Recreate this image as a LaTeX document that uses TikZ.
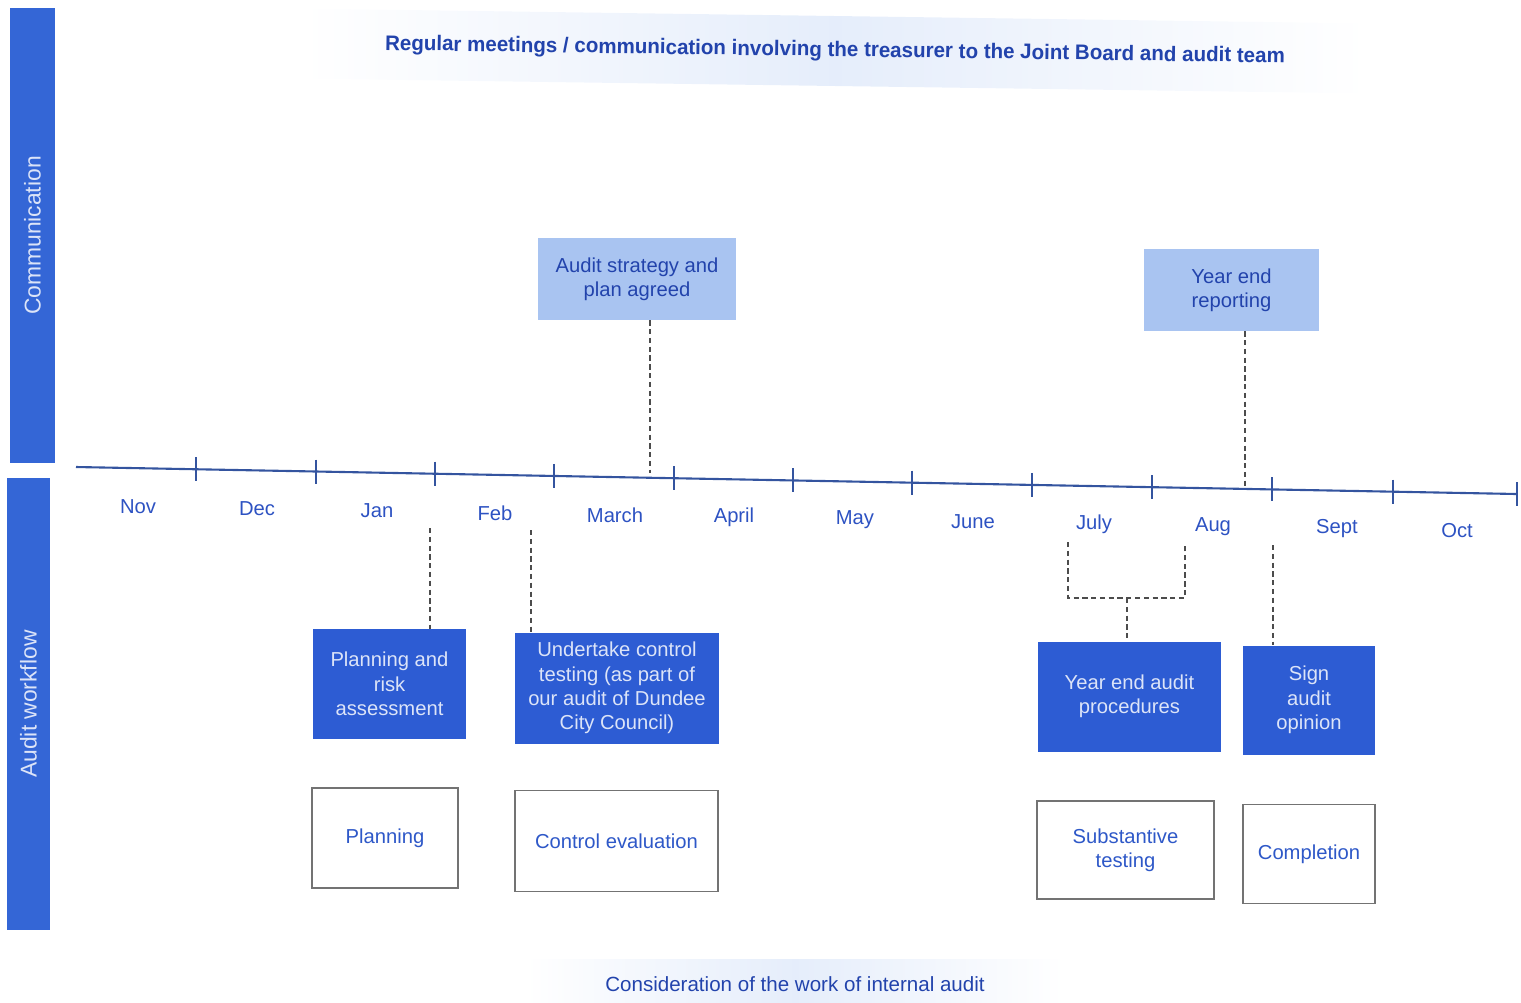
\documentclass[tikz,border=0pt]{standalone}
\usepackage{fontspec}
\setmainfont{Liberation Sans}
\usetikzlibrary{calc}
\definecolor{barblue}{HTML}{3466D6}
\definecolor{boxblue}{HTML}{2D5CD3}
\definecolor{boxtext}{HTML}{DCE4F8}
\definecolor{paleblue}{HTML}{A9C4F1}
\definecolor{deepblue}{HTML}{2243AC}
\definecolor{monthblue}{HTML}{2D52C2}
\definecolor{lineblue}{HTML}{34549F}
\definecolor{stageblue}{HTML}{2E58C8}

\begin{document}
\begin{tikzpicture}[x=0.02cm, y=-0.02cm,
  sidebar/.style={fill=barblue, text=boxtext, rotate=90, inner sep=0pt,
    font=\fontsize{13}{15}\selectfont},
  darkbox/.style={fill=boxblue, text=boxtext, align=center, inner sep=2pt,
    font=\fontsize{11.5}{13.8}\selectfont},
  lightbox/.style={fill=paleblue, text=deepblue, align=center, inner sep=2pt,
    font=\fontsize{11.5}{13.8}\selectfont},
  stagebox/.style={draw=black!55, line width=0.8pt, fill=white, text=stageblue,
    align=center, font=\fontsize{11.5}{13.8}\selectfont},
  banner/.style={left color=white, right color=white, middle color=paleblue!30,
    text=deepblue, inner sep=0pt},
  link/.style={draw=black!70, line width=0.9pt, dash pattern=on 3pt off 2pt},
  axis/.style={draw=lineblue, line width=1.2pt},
  month/.style={text=monthblue, font=\fontsize{11.5}{13.8}\selectfont}]
  \useasboundingbox (0,0) rectangle (1521,1002);

  % side bars
  \node[sidebar, minimum width=9.1cm, minimum height=0.9cm] (comm) at (32.5,235.5) {Communication};
  \node[sidebar, minimum width=9.04cm, minimum height=0.86cm] (work) at (28.5,704) {Audit workflow};

  % banners
  \node[banner, minimum width=21.3cm, minimum height=1.4cm, rotate=-0.8] (meet) at (835,51)
    {\fontsize{12}{14}\selectfont\bfseries\resizebox{18cm}{\height}{Regular meetings / communication involving the treasurer to the Joint Board and audit team}};
  \node[banner, minimum width=10.8cm, minimum height=1.0cm] (internal) at (795,984)
    {\fontsize{11.7}{14}\selectfont Consideration of the work of internal audit};

  % timeline
  \coordinate (t0) at (76,467);
  \coordinate (t1) at (1517,494);
  \draw[axis] (t0) -- (t1);
  \foreach \x in {196,316,435,554,674,793,912,1032,1152,1272,1393,1517}
    \draw[axis] ($(t0)!{(\x-76)/1441}!(t1)$) ++(0,-12) -- ++(0,24);
  \foreach \x/\m [count=\k] in {138/Nov,257/Dec,377/Jan,495/Feb,615/March,734/April,
      855/May,973/June,1094/July,1213/Aug,1337/Sept,1457/Oct}
    \node[month] (m\k) at ($($(t0)!{(\x-76)/1441}!(t1)$)+(0,38)$) {\m};

  % communication points
  \node[lightbox, minimum width=3.96cm, minimum height=1.64cm] (strat) at (637,279) {Audit strategy and\\plan agreed};
  \node[lightbox, minimum width=3.5cm, minimum height=1.64cm] (rep) at (1231.5,290) {Year end\\reporting};
  \coordinate (ta) at (650,473);
  \coordinate (tb) at (1245,487);
  \draw[link] (strat.south -| ta) -- (ta);
  \draw[link] (rep.south -| tb) -- (tb);

  % workflow
  \node[darkbox, minimum width=3.06cm, minimum height=2.2cm] (plan) at (389.5,684) {Planning and\\risk\\assessment};
  \node[darkbox, minimum width=4.08cm, minimum height=2.22cm] (ctrl) at (617,688) {Undertake control\\testing (as part of\\our audit of Dundee\\City Council)};
  \node[darkbox, minimum width=3.66cm, minimum height=2.2cm] (yend) at (1129.5,696.5) {Year end audit\\procedures};
  \node[darkbox, minimum width=2.64cm, minimum height=2.18cm] (sign) at (1309,700) {Sign\\audit\\opinion};

  \coordinate (ja) at (430,528);
  \coordinate (fe) at (531,530);
  \coordinate (jl) at (1068,542);
  \coordinate (au) at (1185,543);
  \coordinate (brk) at (1127,598);
  \coordinate (se) at (1273,545);
  \draw[link] (ja) -- (ja |- plan.north);
  \draw[link] (fe) -- (fe |- ctrl.north);
  \draw[link] (jl) |- (brk) -| (au);
  \draw[link] (brk) -- (brk |- yend.north);
  \draw[link] (se) -- (se |- sign.north);

  % stages
  \node[stagebox, minimum width=2.92cm, minimum height=2.0cm] (planning) at (385,838) {Planning};
  \node[stagebox, minimum width=4.06cm, minimum height=2.02cm] (ctrleval) at (616.5,841) {Control evaluation};
  \node[stagebox, minimum width=3.54cm, minimum height=1.96cm] (subst) at (1125.5,850) {Substantive\\testing};
  \node[stagebox, minimum width=2.64cm, minimum height=1.98cm] (compl) at (1309,854) {Completion};
\end{tikzpicture}
\end{document}
